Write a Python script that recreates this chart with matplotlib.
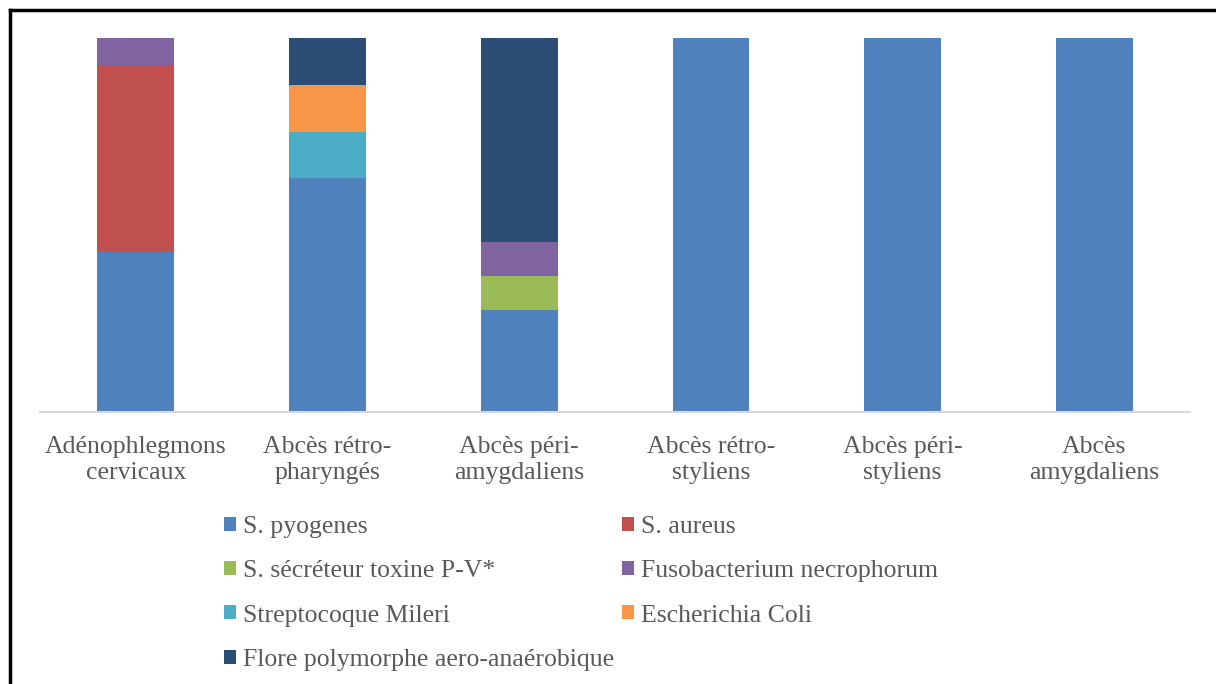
import matplotlib.pyplot as plt
from matplotlib.patches import Patch
from matplotlib.lines import Line2D

plt.rcParams['font.family'] = ['Liberation Serif', 'DejaVu Serif']

categories = ['Adénophlegmons\ncervicaux', 'Abcès rétro-\npharyngés', 'Abcès péri-\namygdaliens',
              'Abcès rétro-\nstyliens', 'Abcès péri-\nstyliens', 'Abcès\namygdaliens']

# share of each germ per abscess type (%)
species = ['S. pyogenes', 'S. aureus', 'S. sécréteur toxine P-V*', 'Fusobacterium necrophorum',
           'Streptocoque Mileri', 'Escherichia Coli', 'Flore polymorphe aero-anaérobique']
pyogenes = [42.9, 62.5, 27.3, 100, 100, 100]
aureus = [50.0, 0, 0, 0, 0, 0]
secreteur = [0, 0, 9.1, 0, 0, 0]
fuso = [7.1, 0, 9.1, 0, 0, 0]
mileri = [0, 12.5, 0, 0, 0, 0]
ecoli = [0, 12.5, 0, 0, 0, 0]
flore = [0, 12.5, 54.5, 0, 0, 0]

series = [pyogenes, aureus, secreteur, fuso, mileri, ecoli, flore]
colors = ['#4F81BD', '#C0504D', '#9BBB59', '#8064A2', '#4BACC6', '#F79646', '#2C4D75']

fig = plt.figure(figsize=(12.16, 6.84), dpi=100)
ax = fig.add_axes([40/1216, 1-412/684, 1150/1216, 374/684])

x = range(len(categories))
bottom = [0]*len(categories)
for vals, c in zip(series, colors):
    ax.bar(x, vals, bottom=bottom, width=0.4, color=c)
    bottom = [b+v for b, v in zip(bottom, vals)]

ax.set_xlim(-0.5, 5.5)
ax.set_ylim(0, 100)
ax.set_yticks([])
ax.set_xticks(list(x))
ax.set_xticklabels(categories, fontsize=18.5, color='#595959', linespacing=1.28)
ax.tick_params(axis='x', length=0, pad=17)
for s in ['top', 'right', 'left']:
    ax.spines[s].set_visible(False)
ax.spines['bottom'].set_color('#D9D9D9')
ax.spines['bottom'].set_linewidth(1.5)

# legend, row-major order like the original
order = [0, 2, 4, 6, 1, 3, 5]
handles = [Patch(facecolor=colors[i], label=species[i]) for i in order]
fig.legend(handles=handles, ncol=2, loc='upper left', bbox_to_anchor=(211/1216, 1-503/684),
           frameon=False, fontsize=18.5, labelcolor='#595959', handlelength=0.47, handleheight=0.47,
           handletextpad=0.27, labelspacing=0.87, columnspacing=0.3, borderpad=0)

# frame cut at left and top
fig.add_artist(Line2D([10/1216, 10/1216], [0, 1-10/684], color='black', lw=2.5))
fig.add_artist(Line2D([10/1216, 1], [1-10/684, 1-10/684], color='black', lw=2.5))

fig.savefig('out.png', dpi=100)
